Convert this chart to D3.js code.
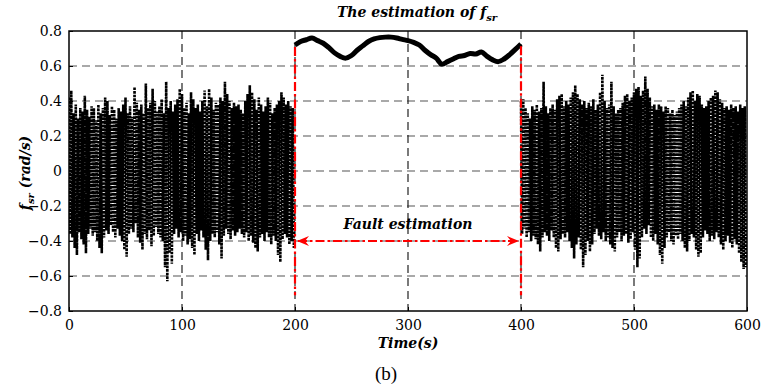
<!DOCTYPE html>
<html>
<head>
<meta charset="utf-8">
<script src="https://cdn.jsdelivr.net/npm/d3@7"></script>
<style>
  body { margin: 0; background: #fff; }
  svg text { font-family: "DejaVu Serif", "Liberation Serif", serif; }
</style>
</head>
<body>
<div id="chart"></div>
<script>
// ---- data ----
var xTicks = [0, 100, 200, 300, 400, 500, 600];
var yTicks = [-0.8, -0.6, -0.4, -0.2, 0, 0.2, 0.4, 0.6, 0.8];

// residual before the fault (t = 0..199): peaks at even seconds, troughs at odd seconds
var noiseHighA = [0.42,0.46,0.33,0.38,0.30,0.36,0.34,0.43,0.35,0.31,0.37,0.36,0.29,0.38,0.33,0.36,0.42,0.40,0.32,0.37,
  0.35,0.30,0.36,0.34,0.38,0.42,0.33,0.37,0.31,0.48,0.39,0.35,0.38,0.33,0.50,0.36,0.39,0.47,0.40,0.34,
  0.37,0.41,0.33,0.51,0.36,0.40,0.34,0.38,0.41,0.47,0.44,0.36,0.39,0.33,0.45,0.41,0.36,0.38,0.34,0.40,
  0.46,0.37,0.47,0.42,0.35,0.39,0.38,0.42,0.40,0.51,0.44,0.40,0.36,0.39,0.37,0.38,0.35,0.33,0.40,0.44,
  0.49,0.45,0.41,0.35,0.42,0.38,0.34,0.37,0.42,0.39,0.33,0.36,0.38,0.40,0.45,0.42,0.38,0.40,0.37,0.36];
var noiseLowA = [-0.36,-0.38,-0.44,-0.48,-0.35,-0.39,-0.42,-0.47,-0.36,-0.33,-0.37,-0.35,-0.40,-0.44,-0.47,-0.38,-0.34,-0.36,-0.31,-0.35,
  -0.38,-0.33,-0.37,-0.40,-0.45,-0.49,-0.36,-0.33,-0.35,-0.30,-0.38,-0.41,-0.45,-0.36,-0.39,-0.34,-0.43,-0.37,-0.32,-0.36,
  -0.38,-0.40,-0.55,-0.63,-0.47,-0.53,-0.36,-0.33,-0.38,-0.35,-0.40,-0.37,-0.42,-0.39,-0.44,-0.48,-0.36,-0.40,-0.34,-0.38,
  -0.45,-0.51,-0.40,-0.36,-0.38,-0.35,-0.42,-0.50,-0.37,-0.33,-0.36,-0.39,-0.34,-0.37,-0.35,-0.33,-0.36,-0.38,-0.35,-0.40,
  -0.37,-0.41,-0.44,-0.46,-0.38,-0.36,-0.40,-0.35,-0.38,-0.42,-0.37,-0.40,-0.48,-0.52,-0.39,-0.36,-0.38,-0.42,-0.40,-0.44];

// residual after the fault (t = 400..599)
var noiseHighB = [0.40,0.41,0.36,0.33,0.30,0.37,0.35,0.38,0.34,0.36,0.51,0.37,0.33,0.36,0.38,0.35,0.41,0.43,0.44,0.37,
  0.40,0.38,0.42,0.45,0.49,0.44,0.41,0.38,0.40,0.36,0.39,0.37,0.41,0.35,0.38,0.45,0.55,0.40,0.36,0.38,
  0.51,0.37,0.33,0.35,0.36,0.39,0.43,0.44,0.40,0.42,0.45,0.47,0.48,0.43,0.46,0.54,0.47,0.42,0.37,0.38,
  0.35,0.38,0.37,0.34,0.37,0.36,0.33,0.35,0.32,0.34,0.36,0.38,0.40,0.37,0.42,0.45,0.46,0.40,0.44,0.43,
  0.38,0.36,0.37,0.40,0.42,0.43,0.46,0.45,0.41,0.39,0.36,0.37,0.35,0.38,0.36,0.37,0.34,0.38,0.36,0.37];
var noiseLowB = [-0.36,-0.33,-0.38,-0.35,-0.40,-0.37,-0.39,-0.42,-0.46,-0.38,-0.35,-0.37,-0.40,-0.34,-0.38,-0.44,-0.46,-0.39,-0.36,-0.38,
  -0.35,-0.40,-0.44,-0.50,-0.42,-0.38,-0.45,-0.55,-0.48,-0.40,-0.46,-0.42,-0.36,-0.33,-0.37,-0.39,-0.35,-0.40,-0.38,-0.42,
  -0.44,-0.46,-0.38,-0.35,-0.40,-0.37,-0.36,-0.41,-0.39,-0.35,-0.45,-0.55,-0.50,-0.38,-0.33,-0.36,-0.31,-0.38,-0.40,-0.36,
  -0.42,-0.48,-0.53,-0.44,-0.38,-0.35,-0.40,-0.42,-0.37,-0.39,-0.36,-0.40,-0.44,-0.46,-0.40,-0.36,-0.38,-0.45,-0.49,-0.47,
  -0.38,-0.34,-0.36,-0.40,-0.37,-0.39,-0.35,-0.38,-0.42,-0.45,-0.40,-0.37,-0.41,-0.44,-0.39,-0.42,-0.47,-0.52,-0.56,-0.55];

// fault estimate during the fault window, one value every 5 s from 200 to 400
var faultTimes = d3.range(200, 401, 5);
var faultValues = [0.72,0.74,0.75,0.76,0.745,0.73,0.705,0.675,0.655,0.645,0.66,0.69,0.715,0.74,0.755,0.762,0.765,0.765,0.76,0.752,
  0.745,0.735,0.72,0.69,0.665,0.645,0.61,0.625,0.64,0.655,0.66,0.672,0.668,0.68,0.655,0.635,0.625,0.64,0.665,0.695,0.725];

var faultStart = 200, faultEnd = 400;
var faultMarkerLow = -0.71;
var arrowLevel = -0.4;

function renderChart() {
  var attrs = {
    svgWidth: 762,
    svgHeight: 389,
    marginTop: 31,
    marginLeft: 69,
    marginRight: 15,
    marginBottom: 78,
    container: '#chart'
  };

  var calc = {};
  calc.chartWidth = attrs.svgWidth - attrs.marginLeft - attrs.marginRight;
  calc.chartHeight = attrs.svgHeight - attrs.marginTop - attrs.marginBottom;

  // scales
  var x = d3.scaleLinear().domain([0, 600]).range([0, calc.chartWidth]);
  var y = d3.scaleLinear().domain([-0.8, 0.8]).range([calc.chartHeight, 0]);

  var svg = d3.select(attrs.container).append('svg')
    .attr('width', attrs.svgWidth)
    .attr('height', attrs.svgHeight);

  var chart = svg.append('g')
    .attr('transform', 'translate(' + attrs.marginLeft + ',' + attrs.marginTop + ')');

  svg.append('defs').append('clipPath').attr('id', 'plot-clip')
    .append('rect').attr('width', calc.chartWidth).attr('height', calc.chartHeight);

  // grid
  chart.append('g').selectAll('line').data(yTicks.slice(1, -1)).enter().append('line')
    .attr('x1', 0).attr('x2', calc.chartWidth)
    .attr('y1', function (d) { return y(d); }).attr('y2', function (d) { return y(d); })
    .attr('stroke', '#555').attr('stroke-width', 1.2).attr('stroke-dasharray', '8,5');
  chart.append('g').selectAll('line').data(xTicks.slice(1, -1)).enter().append('line')
    .attr('y1', 0).attr('y2', calc.chartHeight)
    .attr('x1', function (d) { return x(d); }).attr('x2', function (d) { return x(d); })
    .attr('stroke', '#222').attr('stroke-width', 1.2).attr('stroke-dasharray', '8,5');

  // build zigzag residual from the peak / trough arrays
  function residual(high, low, t0) {
    var pts = [];
    high.forEach(function (h, i) {
      pts.push([t0 + 2 * i, h]);
      pts.push([t0 + 2 * i + 1, low[i]]);
    });
    return pts;
  }

  var line = d3.line()
    .x(function (d) { return x(d[0]); })
    .y(function (d) { return y(d[1]); });

  var plot = chart.append('g').attr('clip-path', 'url(#plot-clip)');

  [residual(noiseHighA, noiseLowA, 0), residual(noiseHighB, noiseLowB, 400)].forEach(function (pts) {
    plot.append('path')
      .datum(pts)
      .attr('d', line)
      .attr('fill', 'none')
      .attr('stroke', '#000')
      .attr('stroke-width', 2.6)
      .attr('stroke-dasharray', '2.6,1');
  });

  var faultLine = d3.line()
    .curve(d3.curveCatmullRom)
    .x(function (d) { return x(d[0]); })
    .y(function (d) { return y(d[1]); });

  plot.append('path')
    .datum(faultTimes.map(function (t, i) { return [t, faultValues[i]]; }))
    .attr('d', faultLine)
    .attr('fill', 'none')
    .attr('stroke', '#000')
    .attr('stroke-width', 5)
    .attr('stroke-linejoin', 'round');

  // fault window markers
  var red = '#ff0000';
  [[faultStart, faultValues[0]], [faultEnd, faultValues[faultValues.length - 1]]].forEach(function (d) {
    chart.append('line')
      .attr('x1', x(d[0])).attr('x2', x(d[0]))
      .attr('y1', y(d[1]) + 2).attr('y2', y(faultMarkerLow))
      .attr('stroke', red).attr('stroke-width', 2.2)
      .attr('stroke-dasharray', '9,3,2.5,3');
  });

  var defs = svg.select('defs');
  defs.append('marker').attr('id', 'arrow-end')
    .attr('viewBox', '0 0 12 10').attr('refX', 11).attr('refY', 5)
    .attr('markerWidth', 12).attr('markerHeight', 10).attr('markerUnits', 'userSpaceOnUse')
    .attr('orient', 'auto')
    .append('path').attr('d', 'M0,0 L12,5 L0,10 L4,5 Z').attr('fill', red);
  defs.append('marker').attr('id', 'arrow-start')
    .attr('viewBox', '0 0 12 10').attr('refX', 11).attr('refY', 5)
    .attr('markerWidth', 12).attr('markerHeight', 10).attr('markerUnits', 'userSpaceOnUse')
    .attr('orient', 'auto-start-reverse')
    .append('path').attr('d', 'M0,0 L12,5 L0,10 L4,5 Z').attr('fill', red);

  chart.append('line')
    .attr('x1', x(faultStart) + 3).attr('x2', x(faultEnd) - 3)
    .attr('y1', y(arrowLevel)).attr('y2', y(arrowLevel))
    .attr('stroke', red).attr('stroke-width', 2.2)
    .attr('stroke-dasharray', '9,3,2.5,3')
    .attr('marker-start', 'url(#arrow-start)')
    .attr('marker-end', 'url(#arrow-end)');

  chart.append('text')
    .attr('x', x(300)).attr('y', y(arrowLevel) - 12)
    .attr('text-anchor', 'middle')
    .attr('font-size', 14).attr('font-weight', 'bold').attr('font-style', 'italic')
    .text('Fault estimation');

  // axes
  var xAxis = chart.append('g')
    .attr('transform', 'translate(0,' + calc.chartHeight + ')')
    .call(d3.axisBottom(x).tickValues(xTicks).tickSize(-4).tickPadding(9));
  var yAxis = chart.append('g')
    .call(d3.axisLeft(y).tickValues(yTicks).tickSize(-4).tickPadding(7)
      .tickFormat(function (d) { return d === 0 ? '0' : d3.format('.1f')(d); }));
  [xAxis, yAxis].forEach(function (a) {
    a.select('.domain').remove();
    a.selectAll('line').attr('stroke', '#000');
    a.selectAll('text').attr('font-size', 14).attr('font-family', '"DejaVu Serif", serif').attr('fill', '#000');
  });

  chart.append('rect')
    .attr('width', calc.chartWidth).attr('height', calc.chartHeight)
    .attr('fill', 'none').attr('stroke', '#000').attr('stroke-width', 1.5);

  // titles
  var title = svg.append('text')
    .attr('x', attrs.marginLeft + calc.chartWidth / 2 + 9).attr('y', 17)
    .attr('text-anchor', 'middle')
    .attr('font-size', 14).attr('font-weight', 'bold').attr('font-style', 'italic');
  title.append('tspan').text('The estimation of f');
  title.append('tspan').attr('font-size', 10).attr('dy', 4).text('sr');

  var yLabel = svg.append('text')
    .attr('transform', 'translate(30,' + (attrs.marginTop + y(0) + 2) + ') rotate(-90)')
    .attr('text-anchor', 'middle')
    .attr('font-size', 14).attr('font-weight', 'bold').attr('font-style', 'italic');
  yLabel.append('tspan').text('f');
  yLabel.append('tspan').attr('font-size', 10).attr('dy', 4).text('sr');
  yLabel.append('tspan').attr('dy', -4).text(' (rad/s)');

  svg.append('text')
    .attr('x', attrs.marginLeft + x(300)).attr('y', 348)
    .attr('text-anchor', 'middle')
    .attr('font-size', 14).attr('font-weight', 'bold').attr('font-style', 'italic')
    .text('Time(s)');

  svg.append('text')
    .attr('x', attrs.marginLeft + x(300) - 22).attr('y', 380)
    .attr('text-anchor', 'middle')
    .attr('font-size', 19)
    .style('font-family', '"Liberation Serif", serif')
    .text('(b)');
}

renderChart();
</script>
</body>
</html>
